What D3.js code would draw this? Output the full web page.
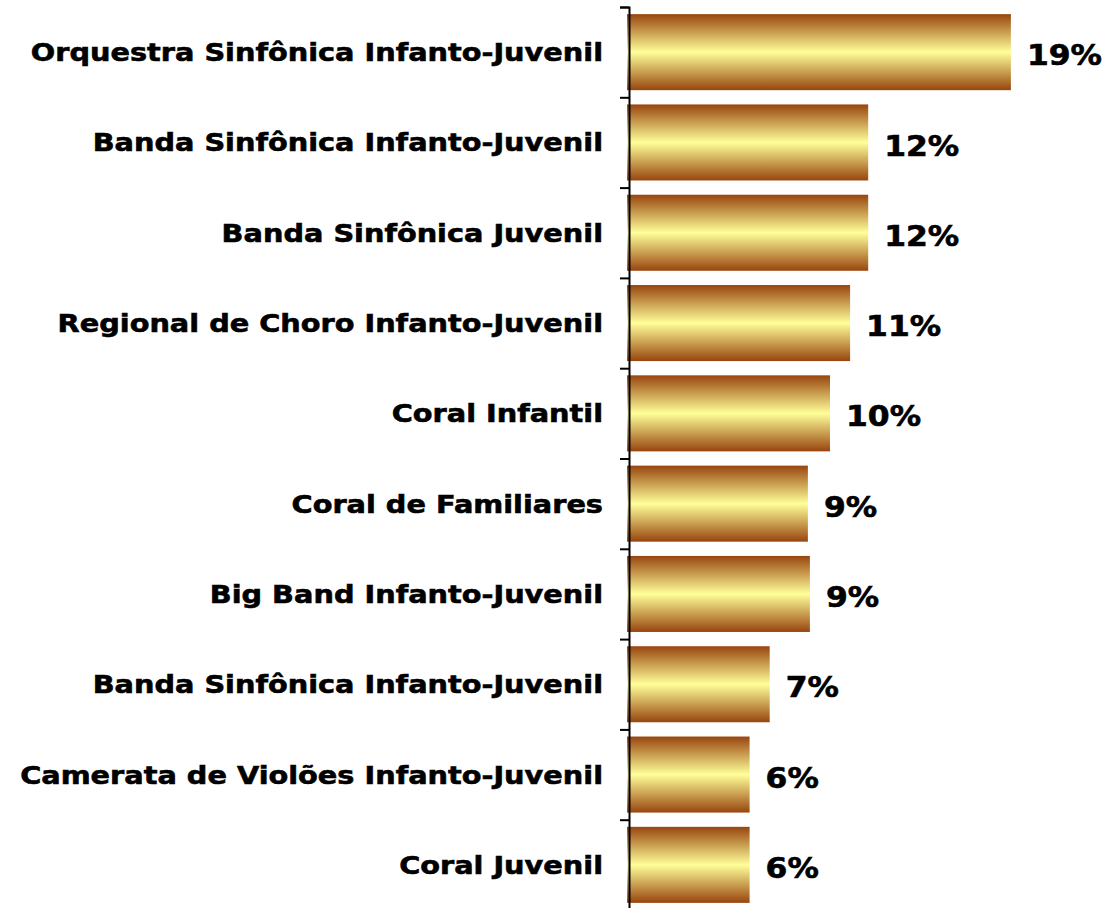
<!DOCTYPE html>
<html>
<head>
<meta charset="utf-8">
<script src="https://cdn.jsdelivr.net/npm/d3@7"></script>
<style>
  body { margin: 0; background: #fff; }
  text { font-family: "DejaVu Sans", Verdana, sans-serif; font-weight: bold; fill: #000; stroke: #000; stroke-width: 0.6px; }
</style>
</head>
<body>
<svg width="1110" height="908"></svg>
<script>
var categories = [
    "Orquestra Sinfônica Infanto-Juvenil",
    "Banda Sinfônica Infanto-Juvenil",
    "Banda Sinfônica Juvenil",
    "Regional de Choro Infanto-Juvenil",
    "Coral Infantil",
    "Coral de Familiares",
    "Big Band Infanto-Juvenil",
    "Banda Sinfônica Infanto-Juvenil ",
    "Camerata de Violões Infanto-Juvenil",
    "Coral Juvenil"
];
var values = [19, 11.9, 11.9, 11, 10, 8.9, 9, 7, 6, 6];
var valueLabels = ["19%", "12%", "12%", "11%", "10%", "9%", "9%", "7%", "6%", "6%"];

var svg = d3.select("svg"),
    axisX = 629,
    plotTop = 7,
    plotBottom = 910;

var x = d3.scaleLinear().domain([0, 20]).range([axisX, axisX + 402]);
var y = d3.scaleBand()
    .domain(categories)
    .range([plotTop, plotBottom])
    .paddingInner(0.158)
    .paddingOuter(0.079);

// vertical gradient brown -> pale yellow -> brown
var grad = svg.append("defs").append("linearGradient")
    .attr("id", "gold")
    .attr("x1", 0).attr("y1", 0).attr("x2", 0).attr("y2", 1);
grad.append("stop").attr("offset", "0%").attr("stop-color", "#98450e");
grad.append("stop").attr("offset", "50%").attr("stop-color", "#ffff99");
grad.append("stop").attr("offset", "100%").attr("stop-color", "#98450e");

svg.selectAll(".bar")
    .data(values)
    .enter().append("rect")
    .attr("class", "bar")
    .attr("x", x(0) - 2)
    .attr("y", function (d, i) { return y(categories[i]); })
    .attr("width", function (d) { return x(d) - x(0) + 2; })
    .attr("height", y.bandwidth())
    .attr("fill", "url(#gold)");

// axis with ticks at the band boundaries
var yTicks = d3.scaleLinear().domain([0, categories.length]).range([plotTop, plotBottom]);
svg.append("g")
    .attr("transform", "translate(" + axisX + ",0)")
    .call(d3.axisLeft(yTicks).ticks(categories.length).tickFormat("").tickSizeOuter(0).tickSize(9))
    .call(function (g) {
        g.select(".domain").attr("stroke", "#000").attr("stroke-width", 2);
        g.selectAll(".tick line").attr("stroke", "#000").attr("stroke-width", 2);
    });

// labels are stretched a bit to get the wide Verdana look
svg.selectAll(".cat")
    .data(categories)
    .enter().append("text")
    .attr("class", "cat")
    .attr("transform", function (d) {
        return "translate(" + (axisX - 26) + "," + (y(d) + y.bandwidth() / 2) + ") scale(1.15,1)";
    })
    .attr("dy", "0.36em")
    .attr("text-anchor", "end")
    .style("font-size", "25px")
    .text(function (d) { return d.trim(); });

svg.selectAll(".val")
    .data(values)
    .enter().append("text")
    .attr("class", "val")
    .attr("transform", function (d, i) {
        return "translate(" + (x(d) + 16) + "," + (y(categories[i]) + y.bandwidth() / 2 + 3) + ") scale(1.12,1)";
    })
    .attr("dy", "0.36em")
    .style("font-size", "28px")
    .text(function (d, i) { return valueLabels[i]; });
</script>
</body>
</html>
